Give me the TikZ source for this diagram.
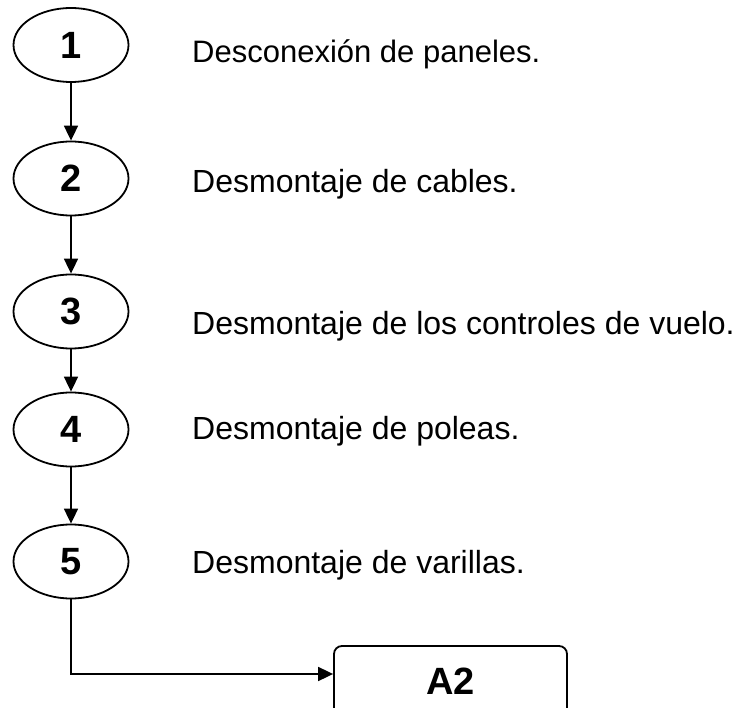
\documentclass[tikz,border=0pt]{standalone}
\usepackage{fontspec}
\setmainfont{Liberation Sans}
\usetikzlibrary{arrows.meta,graphs,shapes.geometric}

\begin{document}
\begin{tikzpicture}[x=1pt,y=-1pt]
  \tikzset{paso/.append style={ellipse, draw, line width=1.8pt, inner sep=0,
      minimum width=115pt, minimum height=74pt,
      font=\fontsize{38}{40}\selectfont\bfseries},
    nota/.append style={anchor=base west, inner sep=0,
      font=\fontsize{32}{36}\selectfont},
    flecha/.style={line width=1.8pt, -{Triangle[length=15pt,width=14pt]}}}
  \useasboundingbox (0,0) rectangle (739,708);
  \clip (0,0) rectangle (739,708);

  \node[paso] (1) at (71,45) {1};
  \node[paso] (2) at (71,178.5) {2};
  \node[paso] (3) at (71,311.5) {3};
  \node[paso] (4) at (71,429.5) {4};
  \node[paso] (5) at (71,561.5) {5};

  \node[nota, font=\fontsize{31}{35}\selectfont] (t1) at (192,62.7)
    {Desconexión de paneles.};
  \node[nota] (t2) at (192,193) {Desmontaje de cables.};
  \node[nota] (t3) at (192,335) {Desmontaje de los controles de vuelo.};
  \node[nota] (t4) at (192,439.5) {Desmontaje de poleas.};
  \node[nota] (t5) at (192,573) {Desmontaje de varillas.};

  \node[draw, line width=1.8pt, rounded corners=8pt, minimum width=233pt,
    minimum height=70pt, font=\fontsize{38}{40}\selectfont\bfseries]
    (a2) at (450.5,681) {A2};

  \graph[use existing nodes, edges={flecha}] {
    1 -> 2 -> 3 -> 4 -> 5;
  };
  \draw[flecha] (5.south) |- ([yshift=7pt]a2.west);
\end{tikzpicture}
\end{document}
